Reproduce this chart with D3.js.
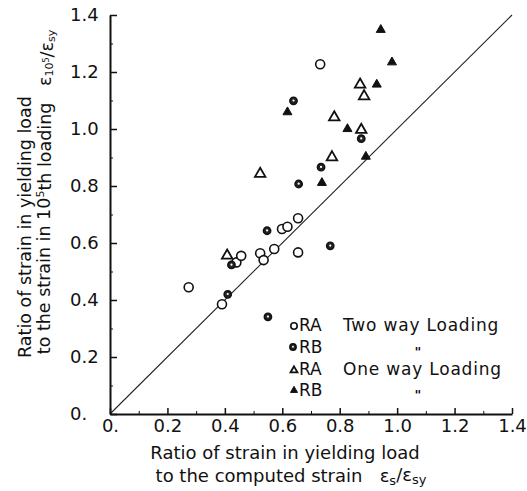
<!DOCTYPE html>
<html><head><meta charset="utf-8">
<script src="https://cdnjs.cloudflare.com/ajax/libs/d3/7.8.5/d3.min.js"></script>
<style>body{margin:0;background:#fff}svg{display:block}text{font-family:"DejaVu Sans",sans-serif;fill:#111;white-space:pre}</style>
</head><body>
<svg id="c" width="527" height="491"></svg>
<script>
// Data: [x = εs/εsy, y = ε10^5/εsy]
const raTwoWay = [[0.274,0.445],[0.39,0.385],[0.44,0.532],[0.457,0.555],[0.523,0.564],[0.535,0.54],[0.572,0.579],[0.599,0.649],[0.618,0.657],[0.655,0.687],[0.655,0.567],[0.732,1.227]];
const rbTwoWay = [[0.41,0.42],[0.423,0.523],[0.547,0.643],[0.55,0.341],[0.639,1.099],[0.875,0.966],[0.735,0.866],[0.657,0.807],[0.767,0.59]];
const raOneWay = [[0.408,0.558],[0.781,1.043],[0.871,1.158],[0.885,1.117],[0.875,0.999],[0.773,0.903],[0.523,0.845]];
const rbOneWay = [[0.618,1.061],[0.929,1.158],[0.827,1.002],[0.891,0.905],[0.738,0.813],[0.943,1.35],[0.982,1.236]];
const majorTicks = [0,0.2,0.4,0.6,0.8,1.0,1.2,1.4];
const tickLabels = ["0.","0.2","0.4","0.6","0.8","1.0","1.2","1.4"];
const minorTicks = [0.1,0.3,0.5,0.7,0.9,1.1,1.3];
const legendItems = [["ra2","RA","Two way Loading"],["rb2","RB","\""],["ra1","RA","One way Loading"],["rb1","RB","\""]];

const svg = d3.select("#c");
const x = d3.scaleLinear().domain([0,1.4]).range([110,512]);
const y = d3.scaleLinear().domain([0,1.4]).range([414,15]);

// diagonal line y = x
svg.append("line").attr("x1",x(0)).attr("y1",y(0)).attr("x2",x(1.4)).attr("y2",y(1.4))
  .attr("stroke","#222").attr("stroke-width",1.1);

// axes
const xAxis = d3.axisBottom(x).tickValues(majorTicks).tickSizeInner(-6).tickSizeOuter(0).tickFormat((d,i)=>tickLabels[i]);
const gx = svg.append("g").attr("transform",`translate(0,${y(0)})`).call(xAxis);
gx.select(".domain").attr("stroke","#111").attr("stroke-width",2);
gx.selectAll(".tick line").attr("stroke","#111").attr("stroke-width",1.5);
gx.selectAll(".tick text").attr("font-size",18).attr("font-family","DejaVu Sans").attr("fill","#111").attr("dy","0.95em").attr("y",1);
const gxm = svg.append("g").attr("transform",`translate(0,${y(0)})`).call(d3.axisBottom(x).tickValues(minorTicks).tickSizeInner(-3).tickSizeOuter(0).tickFormat(""));
gxm.select(".domain").remove(); gxm.selectAll(".tick line").attr("stroke","#111");

const yAxis = d3.axisLeft(y).tickValues(majorTicks).tickSizeInner(-7).tickSizeOuter(0).tickFormat((d,i)=>tickLabels[i]);
const gy = svg.append("g").attr("transform",`translate(${x(0)},0)`).call(yAxis);
gy.select(".domain").attr("stroke","#111").attr("stroke-width",2);
gy.selectAll(".tick line").attr("stroke","#111").attr("stroke-width",1.5);
gy.selectAll(".tick text").attr("font-size",18).attr("font-family","DejaVu Sans").attr("fill","#111").attr("text-anchor","start").attr("x",-40);
const gym = svg.append("g").attr("transform",`translate(${x(0)},0)`).call(d3.axisLeft(y).tickValues(minorTicks).tickSizeInner(-3).tickSizeOuter(0).tickFormat(""));
gym.select(".domain").remove(); gym.selectAll(".tick line").attr("stroke","#111");

// symbols
function openCircle(g, cx, cy, r){ g.append("circle").attr("cx",cx).attr("cy",cy).attr("r",r).attr("fill","#fff").attr("stroke","#111").attr("stroke-width",1.6); }
function rbCircle(g, cx, cy, r){ g.append("circle").attr("cx",cx).attr("cy",cy).attr("r",r).attr("fill","#222").attr("stroke","#111").attr("stroke-width",1.4);
  g.append("circle").attr("cx",cx).attr("cy",cy-0.3).attr("r",r*0.3).attr("fill","#fff"); }
function tri(g, cx, cy, s, filled){ const h=s*0.87;
  g.append("path").attr("d",`M${cx},${cy-h*0.6}L${cx+s/2},${cy+h*0.4}L${cx-s/2},${cy+h*0.4}Z`)
   .attr("fill",filled?"#111":"#fff").attr("stroke","#111").attr("stroke-width",filled?1:1.8).attr("stroke-linejoin","miter"); }

const pts = svg.append("g");
raTwoWay.forEach(d=>openCircle(pts,x(d[0]),y(d[1]),4.5));
rbTwoWay.forEach(d=>rbCircle(pts,x(d[0]),y(d[1]),3.7));
raOneWay.forEach(d=>tri(pts,x(d[0]),y(d[1]),10.5,false));
rbOneWay.forEach(d=>tri(pts,x(d[0]),y(d[1]),9,true));

// legend
const lg = svg.append("g");
const rows = [325,347,369,390];
legendItems.forEach((it,i)=>{
  const yy = rows[i];
  if(it[0]==="ra2") openCircle(lg,294,yy+1,3.2);
  if(it[0]==="rb2") rbCircle(lg,293,yy,3.2);
  if(it[0]==="ra1") tri(lg,294,yy+1,7,false);
  if(it[0]==="rb1") tri(lg,294,yy,7,true);
  lg.append("text").attr("x",299).attr("y",yy).attr("dy","0.36em").attr("font-size",17).text(it[1]);
  if(it[2]==="\"") lg.append("text").attr("x",418).attr("y",yy+4).attr("dy","0.36em").attr("font-size",13).attr("font-weight","bold").attr("font-style","italic").attr("text-anchor","middle").text("\"");
  else lg.append("text").attr("x",343).attr("y",yy).attr("dy","0.36em").attr("font-size",17).attr("letter-spacing",0.8).text(it[2]);
});

// axis titles
svg.append("text").attr("x",285).attr("y",453).attr("dy","0.36em").attr("text-anchor","middle").attr("font-size",18).text("Ratio of strain in yielding load");
const xt2 = svg.append("text").attr("x",291).attr("y",476).attr("dy","0.36em").attr("text-anchor","middle").attr("font-size",18);
xt2.append("tspan").text("to the computed strain   \u03B5");
xt2.append("tspan").attr("font-size",13).attr("dy","0.2em").text("s");
xt2.append("tspan").attr("dy","-0.25em").text("/\u03B5");
xt2.append("tspan").attr("font-size",13).attr("dy","0.25em").text("sy");

svg.append("text").attr("transform","translate(25,227) rotate(-90)").attr("dy","0.36em").attr("text-anchor","middle").attr("font-size",17.5).text("Ratio of strain in yielding load");
const yt2 = svg.append("text").attr("transform","translate(44,192) rotate(-90)").attr("dy","0.36em").attr("text-anchor","middle").attr("font-size",17.5);
yt2.append("tspan").text("to the strain in 10");
yt2.append("tspan").attr("font-size",11).attr("dy","-0.55em").text("5");
yt2.append("tspan").attr("dy","0.38em").text("th loading   \u03B5");
yt2.append("tspan").attr("font-size",11).attr("dy","0.2em").text("10");
yt2.append("tspan").attr("font-size",8).attr("dy","-0.5em").text("5");
yt2.append("tspan").attr("dy","0.2em").text("/\u03B5");
yt2.append("tspan").attr("font-size",11).attr("dy","0.2em").text("sy");
</script>
</body></html>
